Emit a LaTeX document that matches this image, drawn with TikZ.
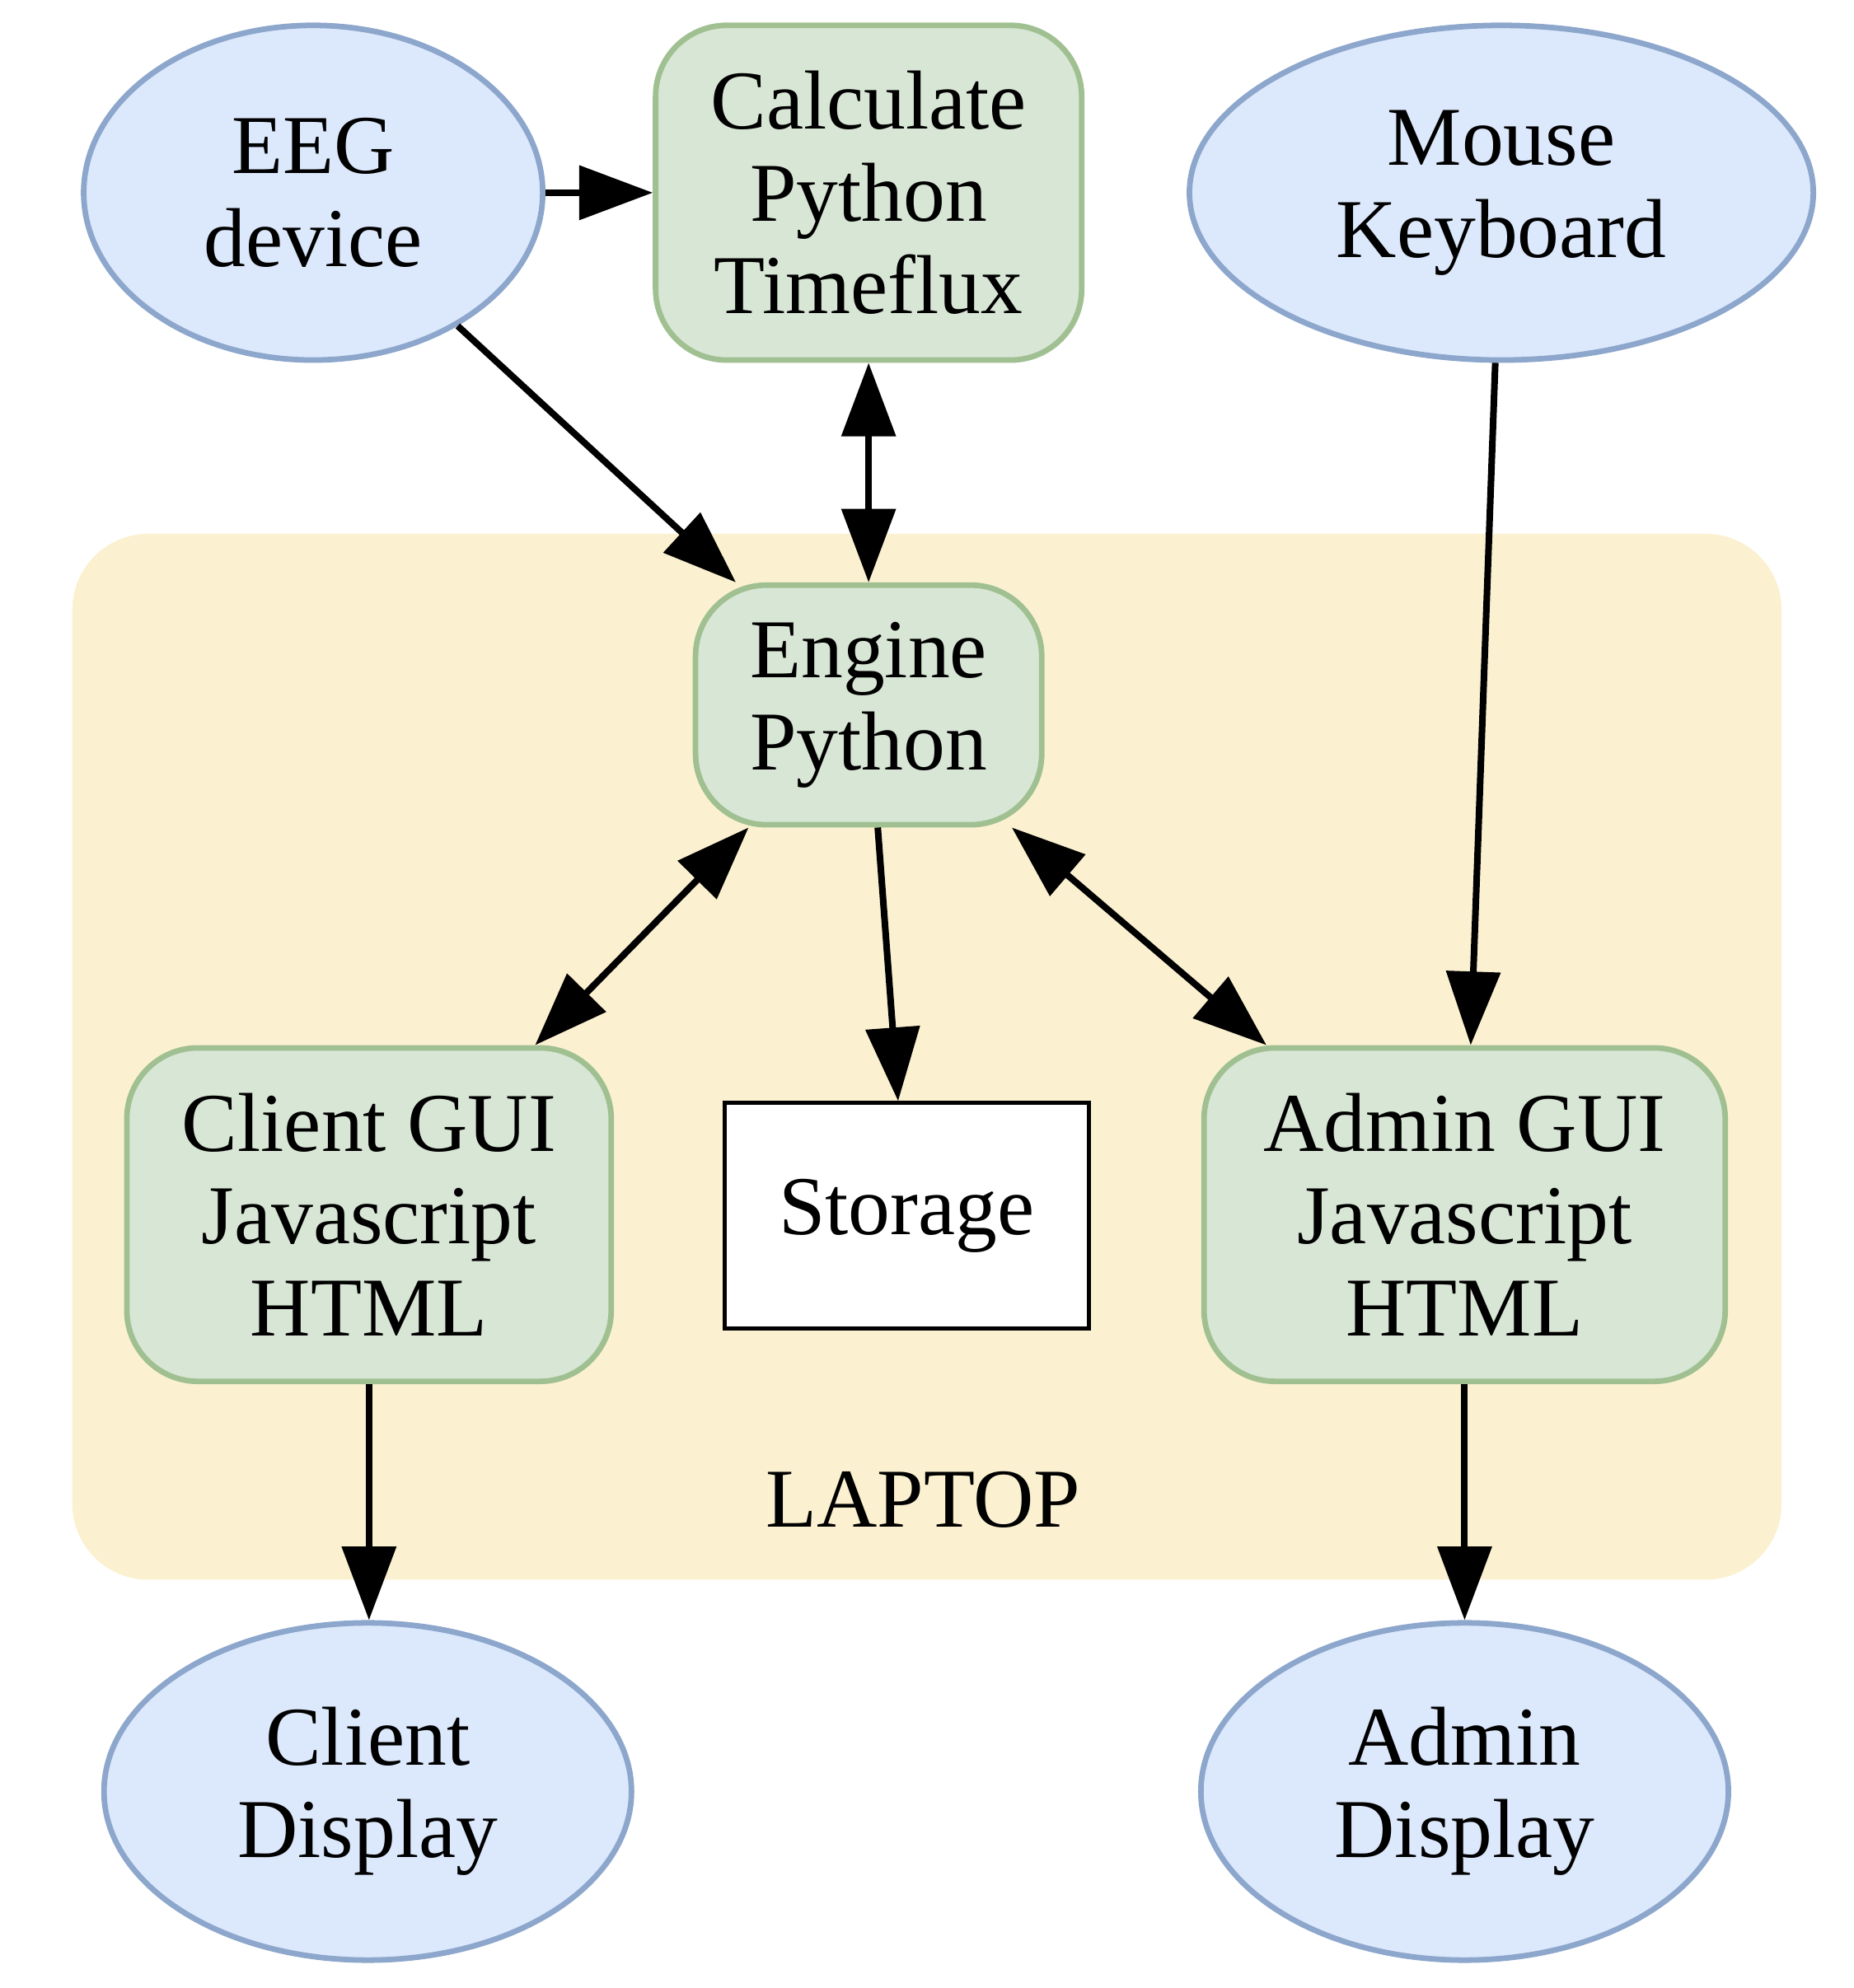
\documentclass[tikz,border=0pt]{standalone}
\usepackage{fontspec}
\setmainfont{Liberation Serif}
\usetikzlibrary{shapes.geometric,arrows.meta}
\definecolor{ellfill}{RGB}{220,232,251}
\definecolor{elldraw}{RGB}{140,166,204}
\definecolor{boxfill}{RGB}{216,230,213}
\definecolor{boxdraw}{RGB}{160,192,146}
\definecolor{lapfill}{RGB}{251,241,208}
\tikzset{
  lbl/.style={font=\fontsize{33pt}{36.5pt}\selectfont, align=center, inner sep=0pt},
  ell/.style={lbl, ellipse, draw=elldraw, fill=ellfill, line width=2.2pt},
  gbox/.style={lbl, rectangle, rounded corners=28pt, draw=boxdraw, fill=boxfill, line width=2.2pt},
  wbox/.style={lbl, rectangle, draw=black, fill=white, line width=1.6pt},
  conn/.style={line width=2.6pt, -{Triangle[length=29pt,width=21pt]}},
  conn2/.style={line width=2.6pt, {Triangle[length=29pt,width=21pt]}-{Triangle[length=29pt,width=21pt]}}
}
\begin{document}
\begin{tikzpicture}[x=0.5pt,y=-0.5pt]
\useasboundingbox (0,0) rectangle (1462,1568);
\fill[lapfill, rounded corners=30pt] (57,421) rectangle (1405,1246);
\node[lbl] (laptop) at (728,1183) {LAPTOP};
\node[ell, minimum width=362*0.5pt, minimum height=264*0.5pt] (eeg) at (247,152) {EEG\\device};
\node[gbox, minimum width=336*0.5pt, minimum height=264*0.5pt] (calc) at (685,152) {Calculate\\Python\\Timeflux};
\node[ell, minimum width=492*0.5pt, minimum height=264*0.5pt] (mouse) at (1184,152) {Mouse\\Keyboard};
\node[gbox, minimum width=273*0.5pt, minimum height=189*0.5pt] (engine) at (685,556) {Engine\\Python};
\node[gbox, minimum width=382*0.5pt, minimum height=263*0.5pt] (client) at (291,958) {Client GUI\\Javascript\\HTML};
\node[wbox, minimum width=287*0.5pt, minimum height=178*0.5pt] (storage) at (715,959) {Storage};
\node[gbox, minimum width=411*0.5pt, minimum height=263*0.5pt] (admin) at (1155,958) {Admin GUI\\Javascript\\HTML};
\node[ell, minimum width=416*0.5pt, minimum height=266*0.5pt] (cdisp) at (290,1413) {Client\\Display};
\node[ell, minimum width=416*0.5pt, minimum height=266*0.5pt] (adisp) at (1155,1413) {Admin\\Display};
\draw[conn] (eeg) -- (calc);
\draw[conn] (eeg) -- (engine);
\draw[conn2] (calc) -- (engine);
\draw[conn] (mouse) -- (admin);
\draw[conn2] (engine) -- (client);
\draw[conn] (engine) -- (storage);
\draw[conn2] (engine) -- (admin);
\draw[conn] (client) -- (client.south |- cdisp.north);
\draw[conn] (admin) -- (adisp);
\end{tikzpicture}
\end{document}
